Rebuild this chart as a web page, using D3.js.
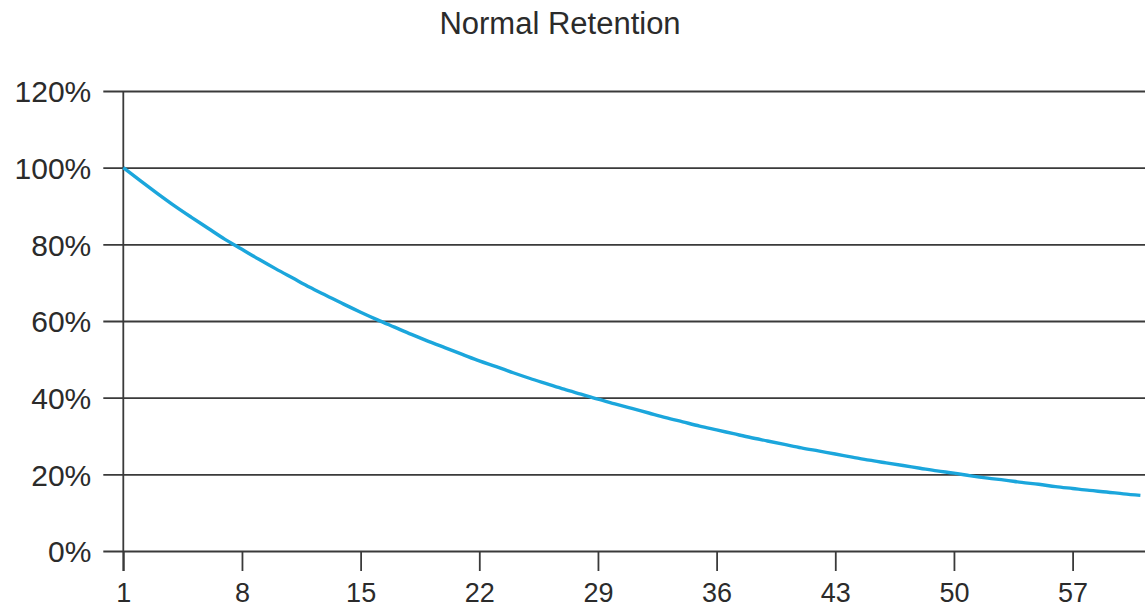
<!DOCTYPE html>
<html>
<head>
<meta charset="utf-8">
<script src="https://cdn.jsdelivr.net/npm/d3@7"></script>
<style>
  html, body { margin: 0; padding: 0; background: #ffffff; }
  svg { display: block; }
  text { font-family: "Liberation Sans", Arial, Helvetica, sans-serif; fill: #2b2b2b; }
</style>
</head>
<body>
<svg id="chart" width="1145" height="609"></svg>
<script>
// ---- data ----
const title = "Normal Retention";
const days = d3.range(1, 62); // day 1 .. 61
const retention = [
  100.0, 96.6, 93.3, 90.1, 87.1, 84.2, 81.3, 78.7, 76.1, 73.6,
  71.2, 68.8, 66.6, 64.4, 62.3, 60.3, 58.4, 56.5, 54.7, 53.0,
  51.3, 49.6, 48.1, 46.5, 45.0, 43.6, 42.2, 40.9, 39.6, 38.4,
  37.2, 36.0, 34.8, 33.7, 32.6, 31.6, 30.6, 29.6, 28.7, 27.8,
  26.9, 26.1, 25.3, 24.5, 23.7, 23.0, 22.3, 21.6, 20.9, 20.3,
  19.6, 19.0, 18.5, 17.9, 17.4, 16.8, 16.3, 15.8, 15.4, 14.9,
  14.5
];
const xTickValues = [1, 8, 15, 22, 29, 36, 43, 50, 57];
const yTickValues = [0, 20, 40, 60, 80, 100, 120];

// ---- layout ----
const svg = d3.select("#chart");
const W = 1145, H = 609;
const axisX = 123.3;
const x = d3.scaleLinear().domain([1, 57]).range([axisX, 1072.6]);
const y = d3.scaleLinear().domain([0, 120]).range([551, 91]);
const ink = "#3a3a3a";

// title
svg.append("text")
  .attr("x", 560).attr("y", 34)
  .attr("text-anchor", "middle")
  .style("font-size", "31px")
  .text(title);

// horizontal gridlines with left tick extension + y labels
const yAxis = d3.axisLeft(y)
  .tickValues(yTickValues)
  .tickFormat(d => d + "%")
  .tickSize(-(W - axisX))
  .tickSizeOuter(0)
  .tickPadding(32);
const gy = svg.append("g").attr("transform", `translate(${axisX},0)`).call(yAxis);
gy.select(".domain").remove();
gy.selectAll(".tick line")
  .attr("x1", -20)
  .attr("stroke", ink).attr("stroke-width", 1.8);
gy.selectAll(".tick text")
  .attr("fill", "#2b2b2b")
  .style("font-family", "'Liberation Sans', Arial, sans-serif")
  .style("font-size", "30px")
  .attr("dy", "0.36em");

// vertical y axis line
svg.append("line")
  .attr("x1", axisX).attr("x2", axisX)
  .attr("y1", y(120)).attr("y2", 571)
  .attr("stroke", ink).attr("stroke-width", 1.8);

// x axis ticks + labels
const xAxis = d3.axisBottom(x)
  .tickValues(xTickValues)
  .tickFormat(d3.format("d"))
  .tickSize(20)
  .tickSizeOuter(0)
  .tickPadding(12);
const gx = svg.append("g").attr("transform", `translate(0,${y(0)})`).call(xAxis);
gx.select(".domain").remove();
gx.selectAll(".tick line").attr("stroke", ink).attr("stroke-width", 1.8);
gx.selectAll(".tick text")
  .attr("fill", "#2b2b2b")
  .style("font-family", "'Liberation Sans', Arial, sans-serif")
  .style("font-size", "27px");

// retention curve
const line = d3.line()
  .x((d, i) => x(days[i]))
  .y(d => y(d))
  .curve(d3.curveMonotoneX);
svg.append("path")
  .datum(retention)
  .attr("fill", "none")
  .attr("stroke", "#1ba6dc")
  .attr("stroke-width", 3.4)
  .attr("d", line);
</script>
</body>
</html>
